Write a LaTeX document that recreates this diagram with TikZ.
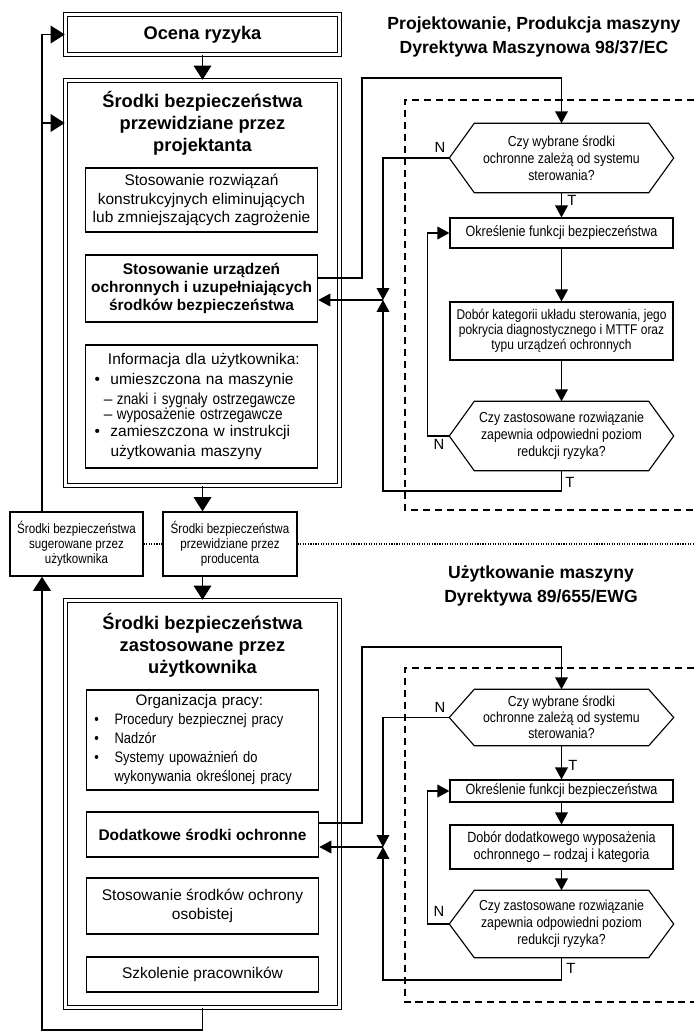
\documentclass[tikz,border=0pt]{standalone}
\usepackage{fontspec}
\setmainfont{Liberation Sans}
\newfontfamily\narrowfont{Liberation Sans}[FakeStretch=0.85]
\usepackage{tikz}
\usetikzlibrary{arrows.meta}

\newcommand{\lbul}{\hspace*{6.5pt}\makebox[11.3pt][l]{\textbullet}}
\newcommand{\ldash}{\hspace*{13pt}\makebox[9.4pt][l]{–}}
\newcommand{\obul}{\hspace*{5.7pt}\makebox[14.3pt][l]{\textbullet}}

\begin{document}
\begin{tikzpicture}
      [x=0.025cm, y=-0.025cm, line width=1pt,
       every node/.style={align=center},
       >={Triangle[length=8.5pt,width=9pt]},
       bigarr/.style={-{Triangle[length=10pt,width=12.5pt]}},
       dbl/.style={draw, double, double distance=1.6pt, line width=1pt, minimum width=6.85cm},
       titletext/.style={font=\fontsize{13}{15.6}\selectfont\bfseries},
       hdrtext/.style={font=\fontsize{12.5}{17}\selectfont\bfseries},
       inbox/.style={draw, line width=1.1pt, minimum width=5.8cm, font=\fontsize{11}{13}\selectfont},
       smallbox/.style={draw, line width=1pt, inner sep=2pt, font=\narrowfont\fontsize{9.7}{10.7}\selectfont},
       flowbox/.style={draw, line width=0.8pt, minimum width=5.575cm, inner sep=2pt, font=\narrowfont\fontsize{10.5}{12}\selectfont},
       hexbox/.style={minimum width=5.575cm, inner sep=1pt, font=\narrowfont\fontsize{10.3}{12}\selectfont},
       hexline/.style={line width=0.8pt},
       lbl/.style={font=\fontsize{10.5}{12}\selectfont},
       zone/.style={dashed, dash pattern=on 5pt off 3.5pt, line width=0.9pt}]
      \useasboundingbox (0, 0) rectangle (694, 1034);

      \node (ocena) [dbl, minimum height=1cm, font=\fontsize{13}{15.6}\selectfont\bfseries] at (202.5, 34.5) {Ocena ryzyka};
      \node (big1) [dbl, minimum height=10.125cm] at (202.5, 283) {};
      \node (title1) [titletext] at (202.5, 123) {Środki bezpieczeństwa\\przewidziane przez\\projektanta};
      \node (b1) [inbox, minimum height=1.6cm] at (201.5, 200) {Stosowanie rozwiązań\\konstrukcyjnych eliminujących\\lub zmniejszających zagrożenie};
      \node (b2) [inbox, minimum height=1.675cm, font=\fontsize{11}{13}\selectfont\bfseries] at (201.5, 288.5) {Stosowanie urządzeń\\ochronnych i uzupełniających\\środków bezpieczeństwa};
      \node (b3) [inbox, minimum height=3.075cm, text width=5.8cm, inner xsep=0pt, align=left, font=\fontsize{11}{14.2}\selectfont] at (201.5, 406.5)
        {\hspace*{16pt}Informacja dla użytkownika:\\
         \lbul umieszczona na maszynie\\
         \ldash{\narrowfont\fontsize{11.3}{14.2}\selectfont znaki i sygnały ostrzegawcze}\\[-3pt]
         \ldash{\narrowfont\fontsize{11.3}{14.2}\selectfont wyposażenie ostrzegawcze}\\[-2pt]
         \lbul zamieszczona w instrukcji\\
         \hspace*{17.8pt}użytkowania maszyny};

      \node (userS) [smallbox, minimum width=3.325cm, minimum height=1.6cm] at (76.5, 544) {Środki bezpieczeństwa\\sugerowane przez\\użytkownika};
      \node (prodS) [smallbox, minimum width=3.35cm, minimum height=1.6cm] at (230, 544) {Środki bezpieczeństwa\\przewidziane przez\\producenta};

      \node (big2) [dbl, minimum height=10.175cm] at (202.5, 804) {};
      \node (title2) [titletext] at (202.5, 645) {Środki bezpieczeństwa\\zastosowane przez\\użytkownika};
      \node (c1) [inbox, minimum height=2.5cm, text width=5.8cm, inner xsep=0pt, align=left, font=\fontsize{10.8}{13.5}\selectfont] at (202.5, 740)
        {\hspace*{35pt}Organizacja pracy:\\
         {\narrowfont\obul Procedury bezpiecznej pracy}\\
         {\narrowfont\obul Nadzór}\\
         {\narrowfont\obul Systemy upoważnień do}\\
         {\narrowfont\hspace*{20pt}wykonywania określonej pracy}};
      \node (c2) [inbox, minimum height=1.125cm, font=\fontsize{11}{13}\selectfont\bfseries] at (202.5, 834.5) {Dodatkowe środki ochronne};
      \node (c3) [inbox, minimum height=1.4cm] at (202.5, 906) {Stosowanie środków ochrony\\osobistej};
      \node (c4) [inbox, minimum height=0.875cm] at (202.5, 974.5) {Szkolenie pracowników};

      \node (hdr1) [hdrtext] at (534, 36.5) {Projektowanie, Produkcja maszyny\\Dyrektywa Maszynowa 98/37/EC};
      \node (hdr2) [hdrtext] at (541, 585.5) {Użytkowanie maszyny\\Dyrektywa 89/655/EWG};

      \node (hex1) [hexbox, minimum height=1.7cm] at (561.5, 158) {Czy wybrane środki\\ochronne zależą od systemu\\sterowania?};
      \node (o1) [flowbox, minimum height=0.75cm] at (561.5, 233) {Określenie funkcji bezpieczeństwa};
      \node (d1) [flowbox, minimum height=1.45cm, font=\narrowfont\fontsize{10}{10.8}\selectfont] at (561.5, 331) {Dobór kategorii układu sterowania, jego\\pokrycia diagnostycznego i  MTTF oraz\\typu urządzeń ochronnych};
      \node (hex2) [hexbox, minimum height=1.7cm] at (561.5, 436) {Czy zastosowane rozwiązanie\\zapewnia odpowiedni poziom\\redukcji ryzyka?};

      \node (hex3) [hexbox, minimum height=1.375cm, font=\narrowfont\fontsize{10.3}{11.5}\selectfont] at (561.5, 717.5) {Czy wybrane środki\\ochronne zależą od systemu\\sterowania?};
      \node (o2) [flowbox, minimum height=0.55cm, inner ysep=1pt] at (561.5, 791) {Określenie funkcji bezpieczeństwa};
      \node (d2) [flowbox, minimum height=1.1cm] at (561.5, 847) {Dobór dodatkowego wyposażenia\\ochronnego – rodzaj i kategoria};
      \node (hex4) [hexbox, minimum height=1.65cm] at (561.5, 924) {Czy zastosowane rozwiązanie\\zapewnia odpowiedni poziom\\redukcji ryzyka?};

      \node (n1) [lbl] at (440, 147) {N};
      \node (t1) [lbl] at (572, 200) {T};
      \node (n2) [lbl] at (439, 444) {N};
      \node (t2) [lbl] at (570, 482) {T};
      \node (n3) [lbl] at (440, 707) {N};
      \node (t3) [lbl] at (573, 765) {T};
      \node (n4) [lbl] at (439, 911) {N};
      \node (t4) [lbl] at (571, 968) {T};

      \coordinate (lt) at (42, 0);
      \coordinate (lb) at (42, 1030);
      \coordinate (k1) at (362, 78);
      \coordinate (j1) at (383, 300);
      \coordinate (k2) at (383, 491);
      \coordinate (k4) at (362, 647);
      \coordinate (j2) at (383, 847);
      \coordinate (k5) at (383, 980);
      \coordinate (e1) at (694, 544);

      \draw [hexline] (hex1.west) -- ([xshift=0.625cm]hex1.north west) -- ([xshift=-0.625cm]hex1.north east) -- (hex1.east) -- ([xshift=-0.625cm]hex1.south east) -- ([xshift=0.625cm]hex1.south west) -- cycle;
      \draw [hexline] (hex2.west) -- ([xshift=0.625cm]hex2.north west) -- ([xshift=-0.625cm]hex2.north east) -- (hex2.east) -- ([xshift=-0.625cm]hex2.south east) -- ([xshift=0.625cm]hex2.south west) -- cycle;
      \draw [hexline] (hex3.west) -- ([xshift=0.625cm]hex3.north west) -- ([xshift=-0.625cm]hex3.north east) -- (hex3.east) -- ([xshift=-0.625cm]hex3.south east) -- ([xshift=0.625cm]hex3.south west) -- cycle;
      \draw [hexline] (hex4.west) -- ([xshift=0.625cm]hex4.north west) -- ([xshift=-0.625cm]hex4.north east) -- (hex4.east) -- ([xshift=-0.625cm]hex4.south east) -- ([xshift=0.625cm]hex4.south west) -- cycle;

      \draw [zone] (694, 100) -- (405, 100) -- (405, 510) -- (694, 510);
      \draw [zone] (694, 668) -- (405, 668) -- (405, 1002) -- (694, 1002);

      \draw [bigarr] (ocena) -- (big1);
      \draw [bigarr] (big1.south) -- (big1.south |- prodS.north);
      \draw [bigarr] (prodS.south -| big2.north) -- (big2.north);
      \draw [bigarr] (userS.north -| lt) |- (ocena.west);
      \draw [bigarr] (lt |- title1) -- (title1 -| big1.west);
      \draw [bigarr] (big2.south) |- (lb) -- (lb |- userS.south);
      \draw [densely dotted, line width=0.8pt] (userS) -- (prodS);
      \draw [densely dotted, line width=0.8pt] (prodS) -- (e1);

      \draw [->] ([yshift=0.26cm]b2.east) -| (k1) -| (hex1.north);
      \draw [->] (hex1) -- (o1);
      \draw [->] (o1) -- (d1);
      \draw [->] (d1) -- (hex2);
      \draw [->] (hex1.west) -| (j1);
      \draw [->] (hex2.south) |- (k2) -- (j1);
      \draw [->] (j1) -- (j1 -| b2.east);
      \draw [->] (hex2.west) -| ([xshift=-0.55cm]o1.west) -- (o1.west);

      \draw [->] ([yshift=0.29cm]c2.east) -| (k4) -| (hex3.north);
      \draw [->] (hex3) -- (o2);
      \draw [->] (o2) -- (d2);
      \draw [->] (d2) -- (hex4);
      \draw [->] (hex3.west) -| (j2);
      \draw [->] (hex4.south) |- (k5) -- (j2);
      \draw [->] (j2) -- (j2 -| c2.east);
      \draw [->] (hex4.west) -| ([xshift=-0.55cm]o2.west) -- (o2.west);

    \end{tikzpicture}
\end{document}
